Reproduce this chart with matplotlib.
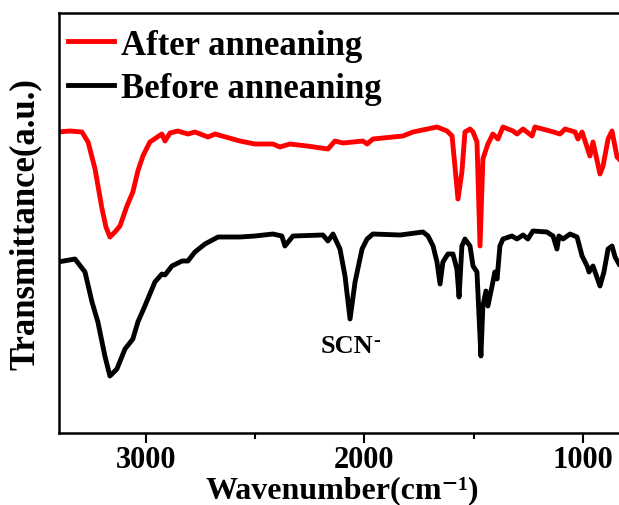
import matplotlib
matplotlib.use("Agg")
import matplotlib.pyplot as plt
from matplotlib.ticker import MultipleLocator

plt.rcParams['font.family'] = ['Liberation Serif', 'DejaVu Serif']
plt.rcParams['font.weight'] = 'bold'

# FTIR spectra (wavenumber in cm-1, transmittance a.u.)
wn_after = [3403, 3348, 3293, 3265, 3233, 3201, 3183, 3165, 3142, 3119, 3087, 3060,
            3037, 3014, 2982, 2927, 2913, 2890, 2854, 2808, 2776, 2716, 2684, 2570,
            2501, 2419, 2387, 2341, 2263, 2167, 2135, 2098, 2007, 1988, 1961, 1824,
            1778, 1668, 1622, 1599, 1586, 1572, 1554, 1540, 1517, 1503, 1485, 1471,
            1458, 1435, 1412, 1389, 1366, 1320, 1302, 1274, 1233, 1220, 1151, 1105,
            1082, 1036, 1023, 1004, 968, 954, 922, 908, 885, 867, 844, 835]
t_after = [301, 302, 301, 291, 264, 224, 206, 196, 201, 207, 227, 241,
           262, 277, 291, 299, 292, 300, 302, 299, 301, 296, 299, 292,
           289, 289, 286, 289, 287, 284, 292, 290, 292, 289, 294, 297,
           301, 306, 302, 297, 267, 234, 261, 301, 304, 301, 291, 187,
           274, 289, 299, 294, 306, 302, 299, 304, 297, 306, 302, 299,
           304, 301, 294, 301, 277, 291, 259, 267, 294, 302, 276, 274]

wn_before = [3403, 3325, 3279, 3247, 3220, 3188, 3165, 3133, 3096, 3060, 3037, 3005,
             2959, 2927, 2913, 2881, 2835, 2808, 2776, 2730, 2670, 2570, 2501, 2419,
             2378, 2364, 2327, 2190, 2167, 2144, 2112, 2089, 2066, 2043, 2011, 1988,
             1961, 1837, 1732, 1709, 1686, 1668, 1654, 1641, 1618, 1595, 1577, 1567,
             1554, 1540, 1517, 1503, 1485, 1467, 1458, 1444, 1435, 1416, 1403, 1393,
             1380, 1366, 1325, 1302, 1274, 1252, 1229, 1165, 1137, 1119, 1110, 1091,
             1059, 1027, 1004, 981, 972, 954, 922, 904, 885, 867, 853, 835]
t_before = [171, 174, 161, 131, 111, 77, 57, 64, 84, 94, 111, 127,
            151, 159, 158, 167, 172, 172, 181, 189, 196, 196, 197, 199,
            197, 187, 197, 198, 192, 199, 184, 157, 114, 151, 184, 194,
            199, 198, 201, 197, 187, 171, 149, 171, 179, 179, 164, 136,
            187, 194, 187, 167, 161, 77, 127, 142, 127, 147, 161, 154,
            187, 194, 197, 194, 198, 194, 202, 201, 197, 184, 197, 194,
            199, 196, 177, 167, 161, 167, 147, 161, 184, 187, 176, 169]

fig = plt.figure(figsize=(6.19, 5.06), dpi=100)
ax = fig.add_axes([59 / 619, 72 / 506, 560 / 619, 420 / 506])

ax.plot(wn_after, t_after, color="red", linewidth=3.5, label="After anneaning")
ax.plot(wn_before, t_before, color="black", linewidth=3.5, label="Before anneaning")

ax.set_xlim(3398, 835)
ax.set_ylim(0, 420)
ax.xaxis.set_major_locator(MultipleLocator(1000))
ax.xaxis.set_minor_locator(MultipleLocator(500))
ax.set_yticks([])
ax.tick_params(axis="x", which="major", direction="out", length=7, width=1.5,
               labelsize=22, pad=2)
ax.tick_params(axis="x", which="minor", direction="out", length=4, width=1.5)
for s in ax.spines.values():
    s.set_linewidth(1.8)
ax.spines["right"].set_visible(False)

ax.set_xlabel("Wavenumber(cm⁻¹)", fontsize=23, fontweight="bold", va="bottom")
ax.xaxis.set_label_coords(0.505, -0.170)
ax.set_ylabel("Transmittance(a.u.)", fontsize=25, fontweight="bold")
ax.yaxis.set_label_coords(-0.03, 0.5)

scn = ax.text(2082, 87, "SCN", fontsize=19, fontweight="bold", ha="center", va="center")
ax.annotate("-", xy=(1, 1), xycoords=scn, xytext=(0.5, 3), textcoords="offset points",
            fontsize=15, fontweight="bold", ha="left", va="top")

ax.legend(loc="upper left", bbox_to_anchor=(-0.011, 1.0), frameon=False, fontsize=25,
          handlelength=1.3, handletextpad=0.2, labelspacing=0.3, borderaxespad=0.1,
          borderpad=0.35)

fig.savefig("out.png", dpi=100)
